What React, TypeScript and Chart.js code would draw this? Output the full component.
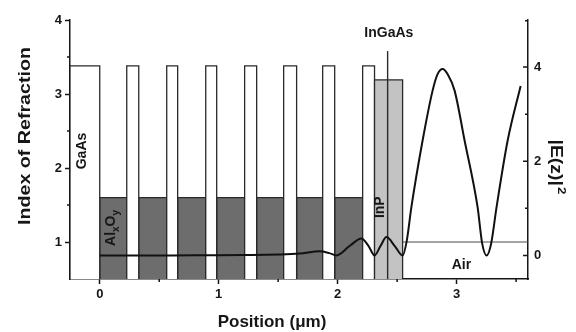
import { useEffect, useRef } from "react";
import { Chart, registerables } from "chart.js";

Chart.register(...registerables);

const FONT = "'Liberation Sans', Arial, Helvetica, sans-serif";
const INK = "#161616";
const EDGE = "#2a2a2a";
const DARK_FILL = "#6d6d6d";
const LIGHT_FILL = "#c3c3c3";

// ---- refractive index profile (µm, index) ----
const N_BASE = 0.5;
const N_GAAS = 3.38;
const N_ALOX = 1.6;
const N_INP = 3.19;
const N_INGAAS = 3.58;
const N_AIR = 1.0;

const gaAsStart = [-0.25, 0.227, 0.563, 0.891, 1.218, 1.546, 1.874, 2.21];
const gaAsEnd = [0, 0.328, 0.655, 0.983, 1.319, 1.655, 1.975, 2.31];
const alOxStart = [0, 0.328, 0.655, 0.983, 1.319, 1.655, 1.975];
const alOxEnd = [0.227, 0.563, 0.891, 1.218, 1.546, 1.874, 2.21];
const inPRange = [2.31, 2.546];
const inGaAsPos = 2.42;
const airRange = [2.546, 3.6];

// ---- |E(z)|^2 (right axis) ----
const fieldX = [0, 0.3, 0.6, 0.9, 1.2, 1.5, 1.68, 1.85, 1.93, 1.99, 2.1, 2.2, 2.26, 2.31, 2.36, 2.41, 2.48, 2.546, 2.58, 2.62, 2.714, 2.798, 2.84, 2.882, 2.925, 2.983, 3.067, 3.176, 3.215, 3.252, 3.29, 3.336, 3.429, 3.538];
const fieldY = [0, 0, 0, 0.005, 0.01, 0.02, 0.04, 0.09, 0.05, 0.0, 0.2, 0.36, 0.2, 0.0, 0.2, 0.39, 0.2, 0.0, 0.3, 1.03, 2.44, 3.5, 3.85, 3.96, 3.85, 3.5, 2.44, 1.03, 0.25, 0.0, 0.25, 1.03, 2.44, 3.6];

// ---- ticks ----
const xTicks = [0, 1, 2, 3];
const xMinor = [0.5, 1.5, 2.5, 3.5];
const yTicks = [1, 2, 3, 4];
const yMinor = [1.5, 2.5, 3.5];
const y2Ticks = [0, 2, 4];
const y2Minor = [1, 3, 5];

// ---- in-plot labels ----
const labelText = ["GaAs", "InP", "InGaAs", "Air"];
const labelX = [-0.15, 2.36, 2.43, 3.04];
const labelY = [2.23, 1.47, 3.82, 0.69];
const labelVertical = [true, true, false, false];
const alOxLabelX = 0.09;
const alOxLabelY = 1.19;

const rect = (x0: number, x1: number, n: number) => [
  { x: x0, y: N_BASE },
  { x: x0, y: n },
  { x: x1, y: n },
  { x: x1, y: N_BASE },
];

const layerDs = (data: any[], fillColor: string, edge = EDGE, width = 1.3, fill: any = "start") => ({
  type: "line" as const,
  data,
  xAxisID: "x",
  yAxisID: "y",
  borderColor: edge,
  borderWidth: width,
  backgroundColor: fillColor,
  fill,
  pointRadius: 0,
  tension: 0,
});

const decorPlugin = {
  id: "decor",
  afterDraw(chart: any) {
    const { ctx, chartArea, scales } = chart;
    const sx = scales.x, sy = scales.y, sy2 = scales.y2;
    ctx.save();
    ctx.strokeStyle = INK;
    ctx.lineWidth = 1.5;
    ctx.beginPath();
    xMinor.forEach((v) => {
      const p = sx.getPixelForValue(v);
      ctx.moveTo(p, chartArea.bottom);
      ctx.lineTo(p, chartArea.bottom + 3);
    });
    yMinor.forEach((v) => {
      const p = sy.getPixelForValue(v);
      ctx.moveTo(chartArea.left, p);
      ctx.lineTo(chartArea.left - 3, p);
    });
    y2Ticks.forEach((v) => {
      const p = sy2.getPixelForValue(v);
      ctx.moveTo(chartArea.right, p);
      ctx.lineTo(chartArea.right - 5, p);
    });
    y2Minor.forEach((v) => {
      const p = Math.max(sy2.getPixelForValue(v), chartArea.top + 0.75);
      ctx.moveTo(chartArea.right, p);
      ctx.lineTo(chartArea.right - 3, p);
    });
    ctx.stroke();

    ctx.fillStyle = INK;
    ctx.textAlign = "center";
    ctx.textBaseline = "middle";
    labelText.forEach((t, i) => {
      const px = sx.getPixelForValue(labelX[i]);
      const py = sy.getPixelForValue(labelY[i]);
      ctx.save();
      ctx.translate(px, py);
      if (labelVertical[i]) ctx.rotate(-Math.PI / 2);
      ctx.font = `bold 14px ${FONT}`;
      ctx.fillText(t, 0, 0);
      ctx.restore();
    });

    {
      const px = sx.getPixelForValue(alOxLabelX);
      const py = sy.getPixelForValue(alOxLabelY);
      ctx.save();
      ctx.translate(px, py);
      ctx.rotate(-Math.PI / 2);
      ctx.textAlign = "left";
      ctx.textBaseline = "alphabetic";
      const big = `bold 14px ${FONT}`;
      const small = `bold 10px ${FONT}`;
      const parts = [
        { t: "Al", f: big, dy: 0 },
        { t: "x", f: small, dy: 4 },
        { t: "O", f: big, dy: 0 },
        { t: "y", f: small, dy: 4 },
      ];
      let total = 0;
      parts.forEach((p) => {
        ctx.font = p.f;
        total += ctx.measureText(p.t).width;
      });
      let cx = -total / 2;
      parts.forEach((p) => {
        ctx.font = p.f;
        ctx.fillText(p.t, cx, 5 + p.dy);
        cx += ctx.measureText(p.t).width;
      });
      ctx.restore();
    }

    ctx.fillStyle = INK;
    ctx.font = `bold 17px ${FONT}`;
    ctx.textAlign = "center";
    ctx.textBaseline = "middle";
    ctx.fillText("Position (μm)", 272, 322);

    {
      ctx.save();
      ctx.translate(26, 136);
      ctx.rotate(-Math.PI / 2);
      ctx.font = `bold 16px ${FONT}`;
      const t = "Index of Refraction";
      const w = ctx.measureText(t).width;
      ctx.scale(178 / w, 1);
      ctx.textAlign = "center";
      ctx.textBaseline = "middle";
      ctx.fillText(t, 0, 0);
      ctx.restore();
    }

    {
      ctx.save();
      ctx.translate(555, 167);
      ctx.rotate(Math.PI / 2);
      const main = "|E(z)|";
      const sup = "2";
      ctx.font = `bold 16px ${FONT}`;
      const w1 = ctx.measureText(main).width;
      ctx.font = `bold 11px ${FONT}`;
      const w2 = ctx.measureText(sup).width;
      const total = w1 + w2 + 1;
      ctx.scale(55 / total, 1);
      ctx.textAlign = "left";
      ctx.textBaseline = "middle";
      ctx.font = `bold 16px ${FONT}`;
      ctx.fillText(main, -total / 2, 0);
      ctx.font = `bold 11px ${FONT}`;
      ctx.fillText(sup, -total / 2 + w1 + 1, -6);
      ctx.restore();
    }
    ctx.restore();
  },
};

export default function App() {
  const ref = useRef<HTMLCanvasElement>(null);

  useEffect(() => {
    if (!ref.current) return;

    const fieldData = fieldX.map((x, i) => ({ x, y: fieldY[i] }));

    const datasets: any[] = [];
    datasets.push({
      type: "line",
      data: fieldData,
      xAxisID: "x",
      yAxisID: "y2",
      borderColor: "#111",
      borderWidth: 2,
      fill: false,
      pointRadius: 0,
      cubicInterpolationMode: "monotone",
    });
    datasets.push(
      layerDs(
        [
          { x: inGaAsPos, y: N_BASE },
          { x: inGaAsPos, y: N_INGAAS },
        ],
        "transparent",
        EDGE,
        1.4,
        false
      )
    );
    datasets.push(layerDs(rect(inPRange[0], inPRange[1], N_INP), LIGHT_FILL));
    gaAsStart.forEach((x0, i) => datasets.push(layerDs(rect(x0, gaAsEnd[i], N_GAAS), "#ffffff")));
    alOxStart.forEach((x0, i) => datasets.push(layerDs(rect(x0, alOxEnd[i], N_ALOX), DARK_FILL)));
    datasets.push(
      layerDs(
        [
          { x: airRange[0], y: N_AIR },
          { x: airRange[1], y: N_AIR },
        ],
        "transparent",
        "#4a4a4a",
        1,
        false
      )
    );

    const tickFont = { family: FONT, size: 13, weight: "bold" as const };

    const chart = new Chart(ref.current, {
      type: "line",
      data: { datasets },
      plugins: [decorPlugin],
      options: {
        animation: false,
        responsive: true,
        maintainAspectRatio: false,
        layout: { padding: { top: 20, left: 0, right: 0, bottom: 0 } },
        plugins: { legend: { display: false }, tooltip: { enabled: false } },
        scales: {
          x: {
            type: "linear",
            min: -0.25,
            max: 3.6,
            afterBuildTicks: (s: any) => {
              s.ticks = xTicks.map((v) => ({ value: v }));
            },
            afterFit: (s: any) => {
              s.height = 53;
            },
            ticks: { color: INK, font: tickFont, padding: 3, maxRotation: 0, callback: (v: any) => String(v) },
            grid: { drawOnChartArea: false, drawTicks: true, tickLength: 5, tickColor: INK, tickWidth: 1.5 },
            border: { display: true, color: INK, width: 1.5 },
          },
          y: {
            type: "linear",
            position: "left",
            min: 0.5,
            max: 4,
            afterBuildTicks: (s: any) => {
              s.ticks = yTicks.map((v) => ({ value: v }));
            },
            afterFit: (s: any) => {
              s.width = 70;
            },
            ticks: { color: INK, font: tickFont, padding: 3, callback: (v: any) => String(v) },
            grid: { drawOnChartArea: false, drawTicks: true, tickLength: 5, tickColor: INK, tickWidth: 1.5 },
            border: { display: true, color: INK, width: 1.5 },
          },
          y2: {
            type: "linear",
            position: "right",
            min: -0.5,
            max: 5,
            afterBuildTicks: (s: any) => {
              s.ticks = y2Ticks.map((v) => ({ value: v }));
            },
            afterFit: (s: any) => {
              s.width = 48;
            },
            ticks: { color: INK, font: tickFont, padding: 6, callback: (v: any) => String(v) },
            grid: { drawOnChartArea: false, drawTicks: false },
            border: { display: true, color: INK, width: 1.5 },
          },
        },
      } as any,
    });

    return () => chart.destroy();
  }, []);

  return (
    <div style={{ position: "fixed", left: 0, top: 0, width: 576, height: 332, background: "#ffffff" }}>
      <canvas ref={ref} />
    </div>
  );
}
